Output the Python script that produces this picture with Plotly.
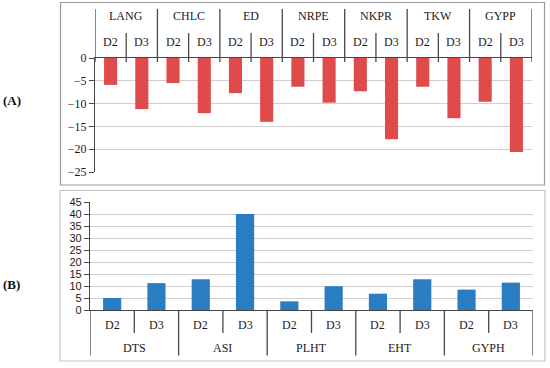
import plotly.graph_objects as go

W, H = 550, 368

# ---- data ----
a_groups = ["LANG", "CHLC", "ED", "NRPE", "NKPR", "TKW", "GYPP"]
a_levels = ["D2", "D3"]
a_d2 = [-5.9, -5.5, -7.7, -6.3, -7.3, -6.3, -9.6]
a_d3 = [-11.2, -12.1, -14.0, -9.8, -17.8, -13.2, -20.6]

b_groups = ["DTS", "ASI", "PLHT", "EHT", "GYPH"]
b_levels = ["D2", "D3"]
b_d2 = [5.0, 12.8, 3.6, 6.8, 8.5]
b_d3 = [11.2, 40.0, 9.9, 12.8, 11.4]

a_ticks = [0, -5, -10, -15, -20, -25]
b_ticks = [0, 5, 10, 15, 20, 25, 30, 35, 40, 45]


def flatten(groups, levels, v1, v2):
    inner, vals = [], []
    for g, x1, x2 in zip(groups, v1, v2):
        for lev, v in zip(levels, (x1, x2)):
            inner.append(lev)
            vals.append(v)
    return inner, vals


a_inner, av = flatten(a_groups, a_levels, a_d2, a_d3)
b_inner, bv = flatten(b_groups, b_levels, b_d2, b_d3)
a_pos = list(range(len(av)))
b_pos = list(range(len(bv)))


def px(x):
    return x / W


def py(y):
    return 1 - y / H


serif = "Liberation Serif"
axis_col = "#474747"
grid_col = "#CFCFCF"
txt_col = "#1A1A1A"

fig = go.Figure()
fig.add_trace(go.Bar(x=a_pos, y=av, marker=dict(color="#DF4B4B", line=dict(width=0)),
                     xaxis="x", yaxis="y", showlegend=False, width=0.42, hoverinfo="skip"))
fig.add_trace(go.Bar(x=b_pos, y=bv, marker=dict(color="#2A7DC0", line=dict(width=0)),
                     xaxis="x2", yaxis="y2", showlegend=False, width=0.41, hoverinfo="skip"))

shapes = [
    dict(type="rect", xref="paper", yref="paper", x0=px(60.5), x1=px(544.5),
         y0=py(185), y1=py(2.5), line=dict(color="#9A9A9A", width=1.2), layer="below"),
    dict(type="rect", xref="paper", yref="paper", x0=px(60), x1=px(545),
         y0=py(361), y1=py(190.5), line=dict(color="#C4C4C4", width=1.2), layer="below"),
]


def label(text, xref, x, y, size=12, color=txt_col):
    return dict(text=text, xref=xref, yref="paper", x=x, y=y, xanchor="center",
                yanchor="middle", showarrow=False,
                font=dict(family=serif, size=size, color=color))


annotations = [
    label("<b>(A)</b>", "paper", px(11.5), py(100), 13, "#111111"),
    label("<b>(B)</b>", "paper", px(11.5), py(284), 13, "#111111"),
]

line = dict(color=axis_col, width=1.3)

# Panel A category header (above the zero axis)
for i, g in enumerate(a_groups):
    annotations.append(label(g, "x", 2 * i + 0.5, py(16)))
for i, lab in enumerate(a_inner):
    annotations.append(label(lab, "x", a_pos[i], py(42)))
for i in range(len(a_groups) + 1):
    shapes.append(dict(type="line", xref="x", yref="paper", x0=2 * i - 0.5, x1=2 * i - 0.5,
                       y0=py(62), y1=py(9), line=line))
for i in range(len(a_groups)):
    shapes.append(dict(type="line", xref="x", yref="paper", x0=2 * i + 0.5, x1=2 * i + 0.5,
                       y0=py(62), y1=py(33), line=line))

# Panel B category footer (below the zero axis)
for i, g in enumerate(b_groups):
    annotations.append(label(g, "x2", 2 * i + 0.5, py(348)))
for i, lab in enumerate(b_inner):
    annotations.append(label(lab, "x2", b_pos[i], py(325)))
for i in range(len(b_groups) + 1):
    shapes.append(dict(type="line", xref="x2", yref="paper", x0=2 * i - 0.5, x1=2 * i - 0.5,
                       y0=py(310), y1=py(355.5), line=line))
for i in range(len(b_groups)):
    shapes.append(dict(type="line", xref="x2", yref="paper", x0=2 * i + 0.5, x1=2 * i + 0.5,
                       y0=py(310), y1=py(333), line=line))

fig.update_layout(
    width=W, height=H,
    margin=dict(l=0, r=0, t=0, b=0),
    paper_bgcolor="white", plot_bgcolor="white",
    font=dict(family=serif, size=12, color=txt_col),
    hovermode=False,
    xaxis=dict(domain=[px(95), px(532)], anchor="y", side="top",
               range=[-0.5, len(av) - 0.5], showticklabels=False, ticks="",
               showline=True, linecolor=axis_col, linewidth=1.3,
               showgrid=False, zeroline=False, automargin=False),
    yaxis=dict(domain=[py(172), py(58)], anchor="x", range=[-25, 0],
               tickvals=a_ticks, ticks="outside", ticklen=5, tickcolor=axis_col, tickwidth=1.2,
               showline=True, linecolor=axis_col, linewidth=1.3,
               showgrid=True, gridcolor=grid_col, gridwidth=1.2, zeroline=False,
               automargin=False,
               tickfont=dict(family=serif, size=12, color=txt_col)),
    xaxis2=dict(domain=[px(90), px(533)], anchor="y2", side="bottom",
                range=[-0.5, len(bv) - 0.5], showticklabels=False, ticks="",
                showline=True, linecolor=axis_col, linewidth=1.3,
                showgrid=False, zeroline=False, automargin=False),
    yaxis2=dict(domain=[py(310), py(202)], anchor="x2", range=[0, 45],
                tickvals=b_ticks, ticks="outside", ticklen=5, tickcolor=axis_col, tickwidth=1.2,
                showline=True, linecolor=axis_col, linewidth=1.3,
                showgrid=True, gridcolor=grid_col, gridwidth=1.2, zeroline=False,
                automargin=False,
                tickfont=dict(family="Liberation Sans", size=11, color=txt_col)),
    shapes=shapes,
    annotations=annotations,
)

fig.write_html("out.html", config={"displayModeBar": False},
               post_script="document.body.style.margin='0px';document.body.style.overflow='hidden';")
